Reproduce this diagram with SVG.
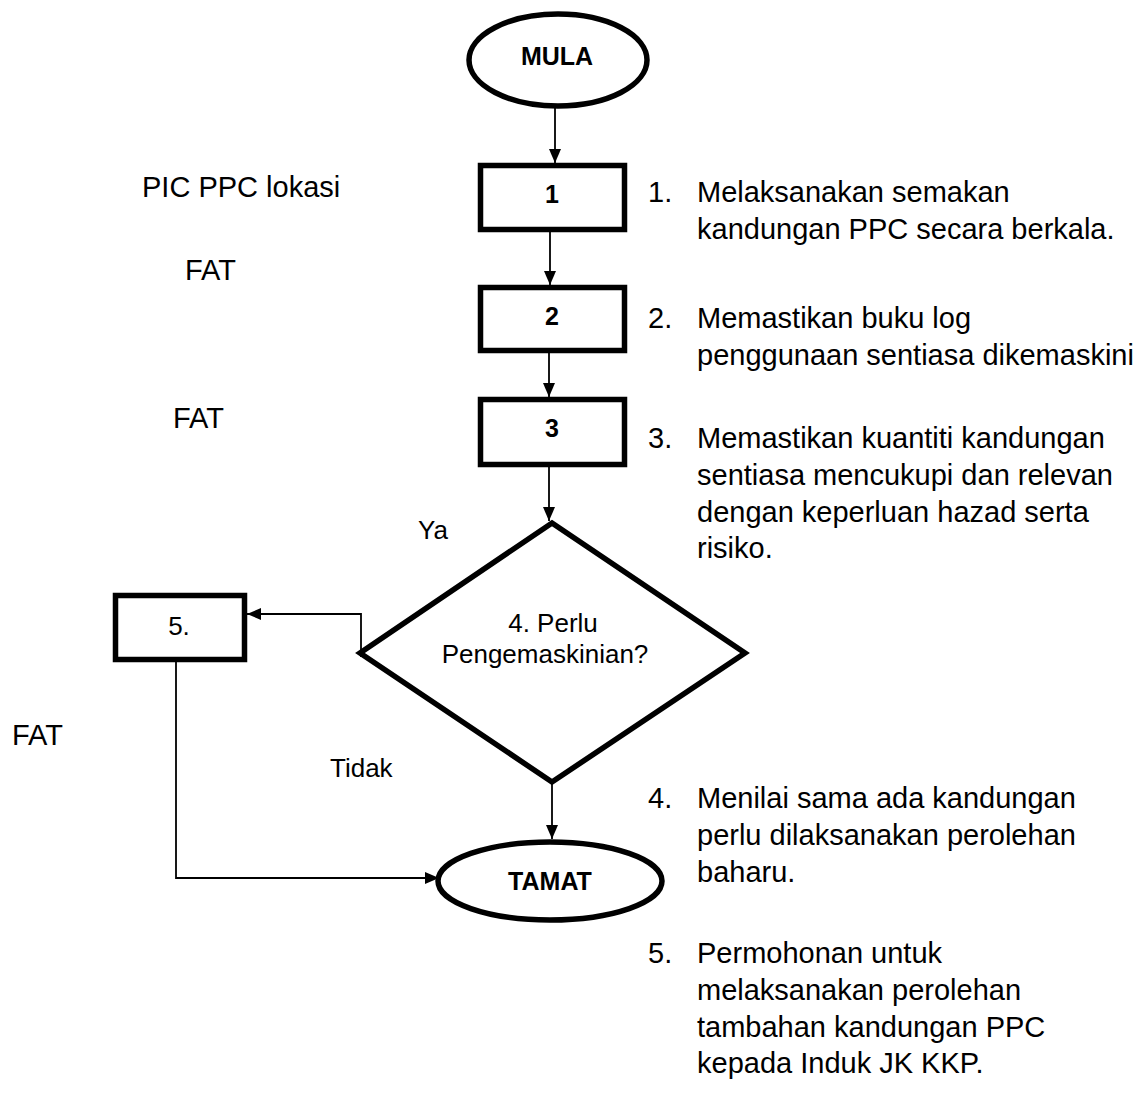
<svg xmlns="http://www.w3.org/2000/svg" width="1148" height="1093" viewBox="0 0 1148 1093">
<defs>
<marker id="arr" viewBox="0 0 14 12" refX="14" refY="6" markerWidth="14" markerHeight="12" markerUnits="userSpaceOnUse" orient="auto">
<path d="M0,0 L14,6 L0,12 z" fill="#000"/>
</marker>
<style>
.shape{fill:#fff;stroke:#000;stroke-width:5.5}
.conn{fill:none;stroke:#000;stroke-width:1.8}
.t{font-family:"Liberation Sans",Arial,sans-serif;font-size:29px;fill:#000}
.s{font-family:"Liberation Sans",Arial,sans-serif;font-size:26px;fill:#000}
.b{font-family:"Liberation Sans",Arial,sans-serif;font-size:25px;font-weight:bold;fill:#000;text-anchor:middle}
</style>
</defs>
<rect width="1148" height="1093" fill="#fff"/>
<g id="connectors">
<path class="conn" d="M555,108 L555,163" marker-end="url(#arr)"/>
<path class="conn" d="M550,232 L550,285" marker-end="url(#arr)"/>
<path class="conn" d="M549,353 L549,397" marker-end="url(#arr)"/>
<path class="conn" d="M549,467 L549,521" marker-end="url(#arr)"/>
<path class="conn" d="M361,657 L361,614 L247,614" marker-end="url(#arr)"/>
<path class="conn" d="M552,782 L552,839" marker-end="url(#arr)"/>
<path class="conn" d="M176,662 L176,878 L439,878" marker-end="url(#arr)"/>
</g>
<g id="mula">
<ellipse class="shape" cx="558" cy="60" rx="89" ry="46" stroke-width="5"/>
<text class="b" x="557" y="65">MULA</text>
</g>
<g id="box1">
<rect class="shape" x="480.5" y="165.5" width="144" height="64"/>
<text class="b" x="552" y="203">1</text>
</g>
<g id="box2">
<rect class="shape" x="480.5" y="287.5" width="144" height="63"/>
<text class="b" x="552" y="325">2</text>
</g>
<g id="box3">
<rect class="shape" x="480.5" y="399.5" width="144" height="65"/>
<text class="b" x="552" y="437">3</text>
</g>
<g id="decision">
<polygon class="shape" points="552,523 745,653 552,782 360,653"/>
<text class="s" x="553" y="632" text-anchor="middle">4. Perlu</text>
<text class="s" x="545" y="663" text-anchor="middle">Pengemaskinian?</text>
</g>
<g id="box5">
<rect class="shape" x="115.5" y="595.5" width="129" height="64"/>
<text class="s" x="179" y="635" text-anchor="middle" font-size="27">5.</text>
</g>
<g id="tamat">
<ellipse class="shape" cx="550" cy="881" rx="112" ry="39" stroke-width="5"/>
<text class="b" x="550" y="890">TAMAT</text>
</g>
<g id="labels">
<text class="t" x="142" y="197">PIC PPC lokasi</text>
<text class="t" x="185" y="280">FAT</text>
<text class="t" x="173" y="428">FAT</text>
<text class="t" x="12" y="745">FAT</text>
<text class="s" x="418" y="539">Ya</text>
<text class="s" x="330" y="777">Tidak</text>
</g>
<g id="notes">
<text class="t" x="648" y="202">1.</text>
<text class="t" x="697" y="202">Melaksanakan semakan</text>
<text class="t" x="697" y="239">kandungan PPC secara berkala.</text>
<text class="t" x="648" y="328">2.</text>
<text class="t" x="697" y="328">Memastikan buku log</text>
<text class="t" x="697" y="365">penggunaan sentiasa dikemaskini</text>
<text class="t" x="648" y="448">3.</text>
<text class="t" x="697" y="448">Memastikan kuantiti kandungan</text>
<text class="t" x="697" y="485">sentiasa mencukupi dan relevan</text>
<text class="t" x="697" y="522">dengan keperluan hazad serta</text>
<text class="t" x="697" y="558">risiko.</text>
<text class="t" x="648" y="808">4.</text>
<text class="t" x="697" y="808">Menilai sama ada kandungan</text>
<text class="t" x="697" y="845">perlu dilaksanakan perolehan</text>
<text class="t" x="697" y="882">baharu.</text>
<text class="t" x="648" y="963">5.</text>
<text class="t" x="697" y="963">Permohonan untuk</text>
<text class="t" x="697" y="1000">melaksanakan perolehan</text>
<text class="t" x="697" y="1037">tambahan kandungan PPC</text>
<text class="t" x="697" y="1073">kepada Induk JK KKP.</text>
</g>
</svg>
